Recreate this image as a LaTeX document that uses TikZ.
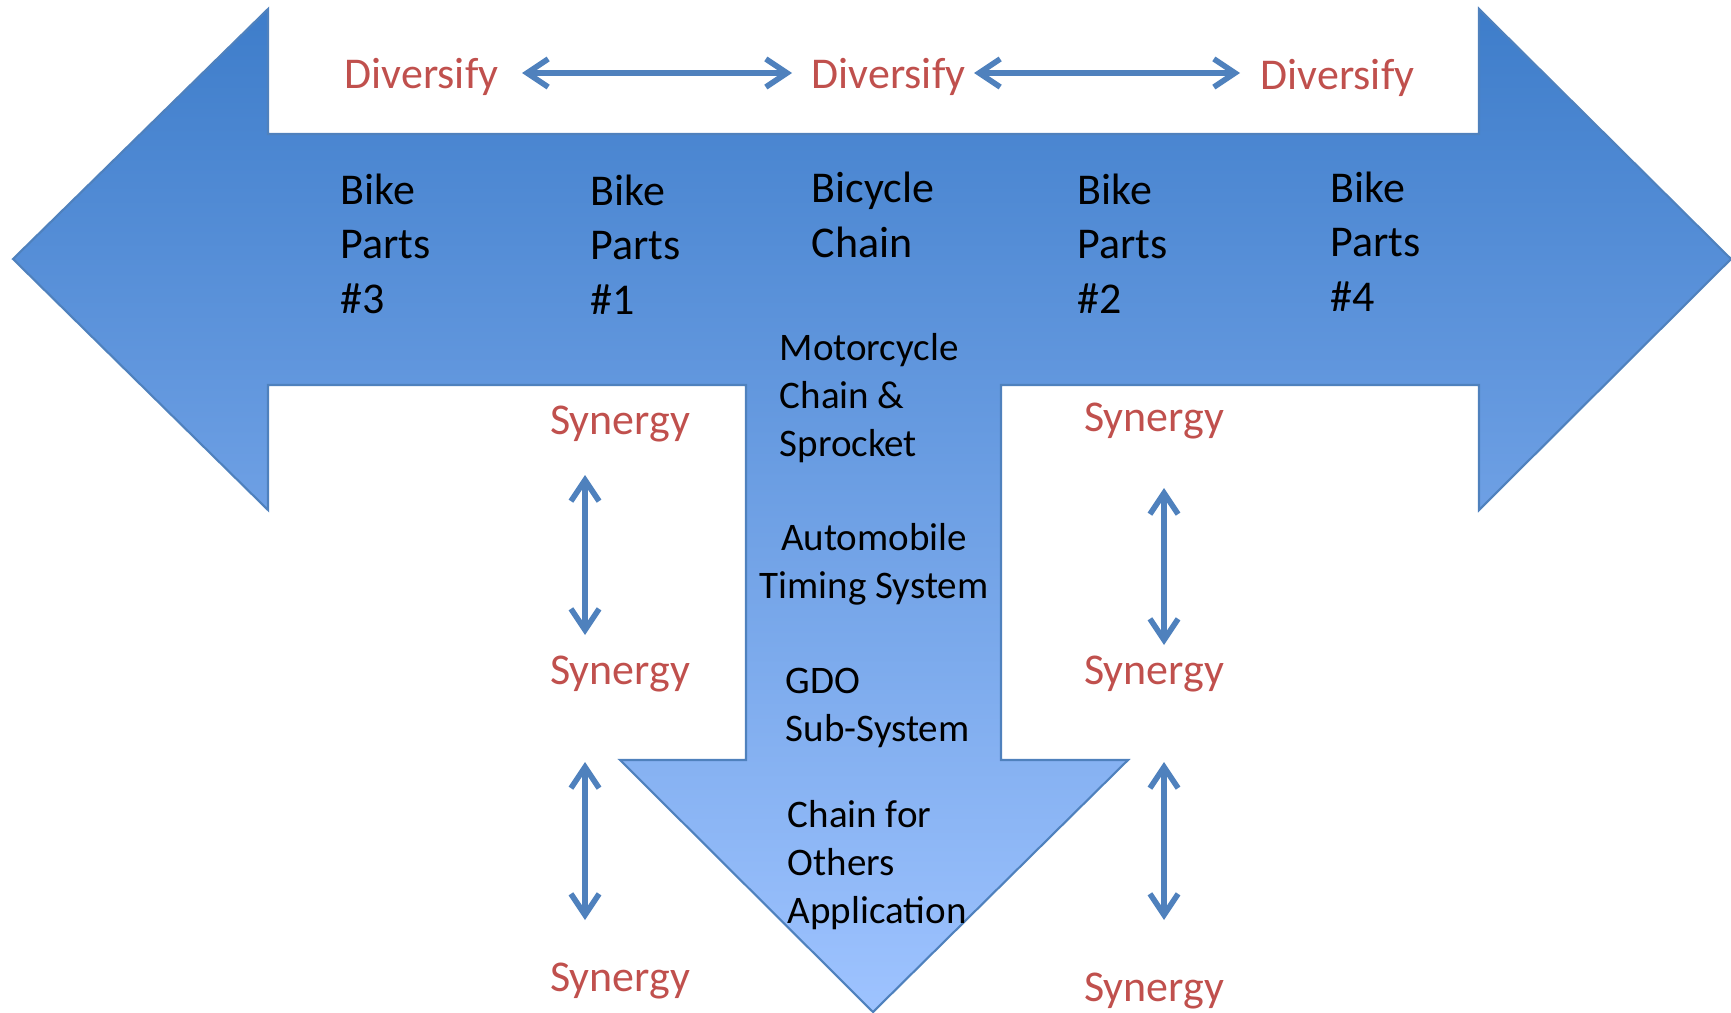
\documentclass[tikz,border=0pt]{standalone}
\usepackage{fontspec}
\setmainfont{Carlito}
\usetikzlibrary{arrows.meta}
\definecolor{armtop}{RGB}{62,125,202}
\definecolor{armbot}{RGB}{158,195,255}
\definecolor{armline}{RGB}{79,129,189}
\definecolor{redtext}{RGB}{192,80,77}
\tikzset{
  parttext/.style={anchor=base west, align=left, inner sep=0pt, font=\fontsize{12.5}{15.4}\selectfont},
  apptext/.style={anchor=base west, align=left, inner sep=0pt, font=\fontsize{11.1}{13.6}\selectfont},
  redword/.style={anchor=base, inner sep=0pt, text=redtext, font=\fontsize{12.5}{15.4}\selectfont},
  dblarrow/.style={draw=armline, line width=1.6pt, {Straight Barb[length=6pt,width=8pt]}-{Straight Barb[length=6pt,width=8pt]}}
}
\begin{document}
\begin{tikzpicture}[x=0.01cm, y=-0.01cm]
\useasboundingbox (0,0) rectangle (1731,1012);

% the T-shaped arrow
\shade[top color=armtop, bottom color=armbot, draw=armline, line width=0.6pt]
  (13,259) -- (268,9) -- (268,134) -- (1479,134) -- (1479,9) -- (1731,259)
  -- (1479,510) -- (1479,385) -- (1001,385) -- (1001,760) -- (1128,760)
  -- (873,1012) -- (620,760) -- (746,760) -- (746,385) -- (268,385)
  -- (268,510) -- cycle;

\node[redword, anchor=base west] (div3) at (344,88) {Diversify};
\node[redword, anchor=base west] (divc) at (811,88) {Diversify};
\node[redword, anchor=base west] (div4) at (1260,89) {Diversify};

% base anchor sits on the last line
\node[parttext] (bp3) at (340,313) {Bike\\Parts\\\#3};
\node[parttext] (bp1) at (590,314) {Bike\\Parts\\\#1};
\node[parttext] (chain) at (811,257) {Bicycle\\Chain};
\node[parttext] (bp2) at (1077,313) {Bike\\Parts\\\#2};
\node[parttext] (bp4) at (1330,311) {Bike\\Parts\\\#4};

\node[apptext] (moto) at (779,456) {Motorcycle\\Chain \&\\Sprocket};
\node[apptext, anchor=base, align=center] (auto) at (874,598) {Automobile\\Timing System};
\node[apptext] (gdo) at (785,741) {GDO\\Sub-System};
\node[apptext] (other) at (787,923) {Chain for\\Others\\Application};

\node[redword] (synl1) at (620,434) {Synergy};
\node[redword] (synl2) at (620,684) {Synergy};
\node[redword] (synl3) at (620,991) {Synergy};
\node[redword] (synr1) at (1154,431) {Synergy};
\node[redword] (synr2) at (1154,684) {Synergy};
\node[redword] (synr3) at (1154,1001) {Synergy};

\coordinate (d1a) at (522,73);
\coordinate (d1b) at (792,73);
\coordinate (d2a) at (974,73);
\coordinate (d2b) at (1240,73);
\coordinate (l1a) at (585,475);
\coordinate (l1b) at (585,635);
\coordinate (l2a) at (585,762);
\coordinate (l2b) at (585,920);
\coordinate (r1a) at (1164,488);
\coordinate (r1b) at (1164,645);
\coordinate (r2a) at (1164,762);
\coordinate (r2b) at (1164,920);

\path[dblarrow] (d1a) -- (d1b);
\path[dblarrow] (d2a) -- (d2b);
\path[dblarrow] (l1a) -- (l1b);
\path[dblarrow] (l2a) -- (l2b);
\path[dblarrow] (r1a) -- (r1b);
\path[dblarrow] (r2a) -- (r2b);
\end{tikzpicture}
\end{document}
